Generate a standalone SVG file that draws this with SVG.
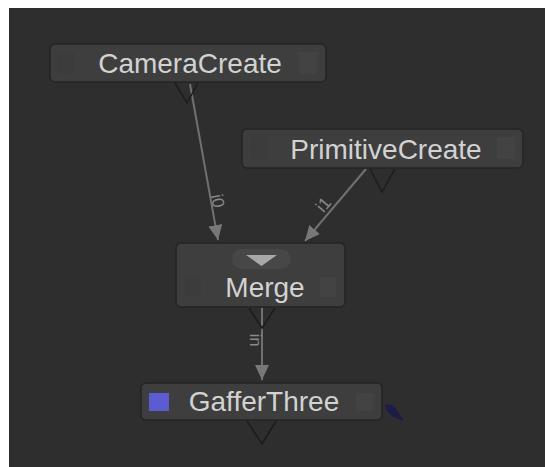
<svg xmlns="http://www.w3.org/2000/svg" width="545" height="467" viewBox="0 0 545 467">
<defs>
<style>
.node{fill:#3e3e3e;stroke:#242424;stroke-width:1.5}
.lbl{font-family:"Liberation Sans",Arial,sans-serif;font-size:28px;fill:#d2d2d2;text-anchor:middle}
.port{font-family:"Liberation Sans",Arial,sans-serif;font-size:17px;fill:#8a8a8a;text-anchor:middle}
.sq{fill:#434343}
.sqd{fill:#3c3c3c}
.out{fill:none;stroke:#1c1c1c;stroke-width:1.5;stroke-linejoin:miter}
.wire{stroke:#707070;stroke-width:2;fill:none}
</style>
<marker id="ah" markerUnits="userSpaceOnUse" markerWidth="16" markerHeight="14" refX="15" refY="7" orient="auto">
<path d="M0,0 L15,7 L0,14 Z" fill="#787878"/>
</marker>
</defs>
<rect x="0" y="0" width="545" height="467" fill="#ffffff"/>
<rect x="9" y="8" width="536" height="459" fill="#2e2e2e"/>

<g id="connectors">
<line class="wire" x1="190" y1="84" x2="218" y2="240" marker-end="url(#ah)"/>
<line class="wire" x1="366" y1="169" x2="305" y2="241" marker-end="url(#ah)"/>
<line class="wire" x1="262" y1="308" x2="262" y2="380" marker-end="url(#ah)"/>
<text class="port" transform="translate(217,201) rotate(79)" dy="5">i0</text>
<text class="port" transform="translate(324,205) rotate(-50)" dy="5">i1</text>
<text class="port" transform="translate(255,340) rotate(90)" dy="5">in</text>
</g>

<g id="CameraCreate">
<rect class="node" x="50" y="44" width="276" height="38" rx="5"/>
<rect class="sqd" x="57" y="52" width="18" height="22"/>
<rect class="sq" x="299" y="52" width="18" height="22"/>
<text class="lbl" x="190" y="73">CameraCreate</text>
<path class="out" d="M175,83 L187,103 L198,83"/>
</g>

<g id="PrimitiveCreate">
<rect class="node" x="242" y="129" width="281" height="39" rx="5"/>
<rect class="sqd" x="250" y="137" width="18" height="22"/>
<rect class="sq" x="497" y="137" width="18" height="22"/>
<text class="lbl" x="386" y="159">PrimitiveCreate</text>
<path class="out" d="M370,169 L382,192 L395,169"/>
</g>

<g id="Merge">
<rect class="node" x="176" y="243" width="169" height="64" rx="5" fill="#3f3f3f"/>
<rect class="sqd" x="185" y="277" width="16" height="20"/>
<rect class="sq" x="320" y="277" width="16" height="20"/>
<rect x="232" y="249" width="59" height="20" rx="10" fill="#474747"/>
<path d="M246,255 L277,255 L261.5,266 Z" fill="#a8a8a8"/>
<text class="lbl" x="265" y="297">Merge</text>
<path class="out" d="M249,308 L262,328 L275,308"/>
</g>

<g id="GafferThree">
<rect class="node" x="141" y="383" width="241" height="37" rx="5"/>
<rect x="149" y="393" width="20" height="18" fill="#5c5cd2"/>
<rect class="sq" x="356" y="393" width="17" height="18"/>
<text class="lbl" x="264" y="411">GafferThree</text>
<path class="out" d="M247,421 L262,444 L276,421"/>
<polygon points="385,404 394,406 398,412 404,421 393,417 387,411" fill="#1c1c48"/>
</g>
</svg>
